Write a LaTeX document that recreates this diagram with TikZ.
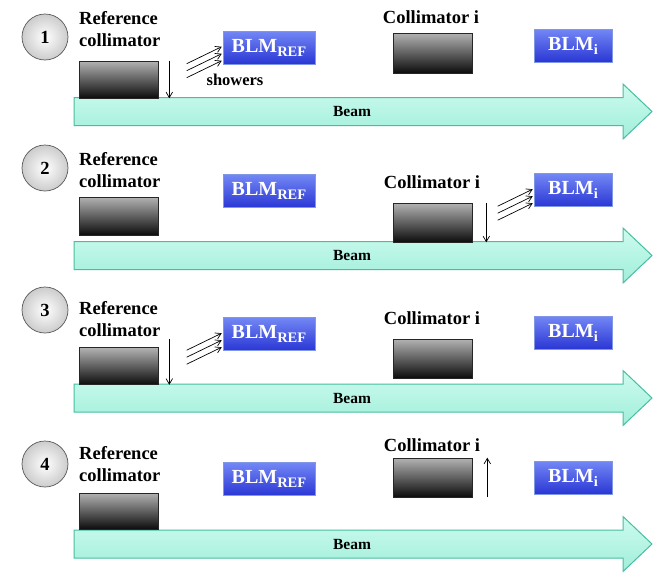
\documentclass[tikz,border=0pt]{standalone}
\usepackage{fontspec}
\setmainfont{Liberation Serif}
\usetikzlibrary{arrows.meta}

\definecolor{beamtop}{RGB}{205,251,238}
\definecolor{beambot}{RGB}{160,238,218}
\definecolor{beamedge}{RGB}{72,190,160}
\definecolor{blmtop}{RGB}{115,135,245}
\definecolor{blmbot}{RGB}{42,55,212}
\definecolor{blmedge}{RGB}{130,150,230}

\newcommand\smallsub[1]{\raisebox{-4pt}{\fontsize{14.5}{15}\selectfont #1}}

\tikzset{
  every node/.style={font=\bfseries},
  numdisc/.style={circle, draw=black!65, line width=0.7pt, inner color=white,
    outer color=black!20, minimum size=46pt, inner sep=0pt,
    font=\fontsize{18.5}{20}\selectfont\bfseries},
  reflabel/.style={anchor=west, align=left, inner sep=0pt,
    font=\fontsize{18.5}{22}\selectfont\bfseries},
  collabel/.style={inner sep=0pt, font=\fontsize{18.5}{20}\selectfont\bfseries},
  jaw/.style={rectangle, draw=black!85, line width=0.6pt, top color=black!30,
    bottom color=black!95, minimum width=79pt, inner sep=0pt},
  blm/.style={rectangle, draw=blmedge, line width=0.6pt, top color=blmtop,
    bottom color=blmbot, inner sep=0pt, minimum height=33pt, text=white,
    font=\fontsize{20}{22}\selectfont\bfseries},
  tip/.style={line width=0.7pt, -{Straight Barb[length=5.5pt,width=6.5pt]}},
  beamfill/.style={draw=beamedge, line width=1pt, top color=beamtop, bottom color=beambot},
  beamlabel/.style={inner sep=0pt, font=\fontsize{15.5}{17}\selectfont\bfseries},
  beampic/.pic={
    \path[beamfill] (74,-14) -- (623,-14) -- (623,-27.5) -- (652,0)
      -- (623,27.5) -- (623,14) -- (74,14) -- cycle;
    \node[beamlabel] (-label) at (352,0) {Beam};
  }
}

\begin{document}
\begin{tikzpicture}[x=1pt,y=-1pt]
\fill[white] (0,0) rectangle (656,573);
\useasboundingbox (0,0) rectangle (656,573);

% ---------- step 1: reference collimator closes in ----------
\pic (beam1) at (0,111.5) {beampic};
\node[numdisc] (n1) at (45,37) {1};
\node[reflabel] (rt1) at (79,29) {Reference\\collimator};
\node[jaw, minimum height=37pt] (rc1) at (118.5,79.5) {};
\node[blm, minimum width=92pt] (br1) at (269,47.5) {BLM\smallsub{REF}};
\node[collabel] (ct1) at (431,17) {Collimator i};
\node[jaw, minimum height=40pt] (ci1) at (432.5,53) {};
\node[blm, minimum width=78pt] (bi1) at (573,45.5) {BLM\smallsub{i}};
\draw[tip] ([xshift=11pt]rc1.north east) -- ([xshift=11pt]rc1.south east);
\foreach \k in {16,23,30}
  \draw[tip] ([xshift=-36pt,yshift={-(\k+17)*1pt}]br1.north west)
    -- ([xshift=-1pt,yshift={-\k*1pt}]br1.north west);
\node[inner sep=0pt, font=\fontsize{16.5}{18}\selectfont\bfseries] (sh1) at (235,80) {showers};

% ---------- step 2: collimator i closes in ----------
\pic (beam2) at (0,255.5) {beampic};
\node[numdisc] (n2) at (45,168) {2};
\node[reflabel] (rt2) at (79,170.5) {Reference\\collimator};
\node[jaw, minimum height=38pt] (rc2) at (118.5,216) {};
\node[blm, minimum width=92pt] (br2) at (269,191) {BLM\smallsub{REF}};
\node[collabel] (ct2) at (432,182) {Collimator i};
\node[jaw, minimum height=39pt] (ci2) at (432.5,222.5) {};
\node[blm, minimum width=78pt] (bi2) at (573,190) {BLM\smallsub{i}};
\draw[tip] ([xshift=14pt]ci2.north east) -- ([xshift=14pt]ci2.south east);
\foreach \k in {16,23,30}
  \draw[tip] ([xshift=-36pt,yshift={-(\k+17)*1pt}]bi2.north west)
    -- ([xshift=-1pt,yshift={-\k*1pt}]bi2.north west);

% ---------- step 3: reference collimator again ----------
\pic (beam3) at (0,398) {beampic};
\node[numdisc] (n3) at (45,310) {3};
\node[reflabel] (rt3) at (79,319.5) {Reference\\collimator};
\node[jaw, minimum height=37pt] (rc3) at (118.5,366) {};
\node[blm, minimum width=92pt] (br3) at (269,334) {BLM\smallsub{REF}};
\node[collabel] (ct3) at (432,318) {Collimator i};
\node[jaw, minimum height=39pt] (ci3) at (432.5,358.5) {};
\node[blm, minimum width=78pt] (bi3) at (573,332.5) {BLM\smallsub{i}};
\draw[tip] ([xshift=11pt,yshift=8pt]rc3.north east) -- ([xshift=11pt]rc3.south east);
\foreach \k in {16,23,30}
  \draw[tip] ([xshift=-36pt,yshift={-(\k+17)*1pt}]br3.north west)
    -- ([xshift=-1pt,yshift={-\k*1pt}]br3.north west);

% ---------- step 4: collimator i retracted ----------
\pic (beam4) at (0,544) {beampic};
\node[numdisc] (n4) at (45,464) {4};
\node[reflabel] (rt4) at (79,464) {Reference\\collimator};
\node[jaw, minimum height=36pt] (rc4) at (118.5,511) {};
\node[blm, minimum width=92pt] (br4) at (269,479) {BLM\smallsub{REF}};
\node[collabel] (ct4) at (432,445) {Collimator i};
\node[jaw, minimum height=39pt] (ci4) at (432.5,477.5) {};
\node[blm, minimum width=78pt] (bi4) at (573,477.5) {BLM\smallsub{i}};
\draw[tip] ([xshift=15pt]ci4.south east) -- ([xshift=15pt]ci4.north east);
\end{tikzpicture}
\end{document}
